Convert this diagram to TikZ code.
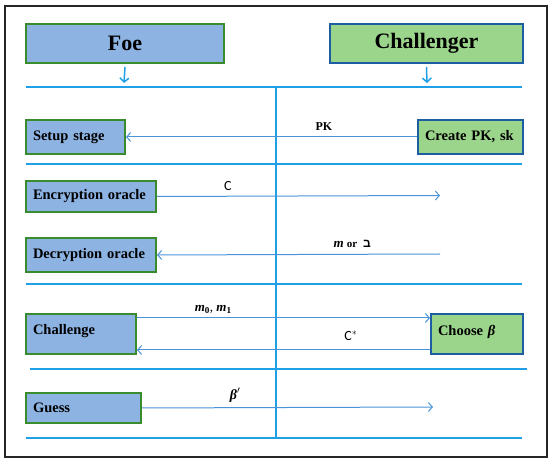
\documentclass[tikz,border=0pt]{standalone}
\usepackage{amsmath}
\usepackage{fontspec}
\setmainfont{Liberation Serif}
\newfontfamily\hebfont[Script=Hebrew]{Liberation Sans}
\newfontfamily\cfont{Carlito}
\TeXXeTstate=1
\usetikzlibrary{arrows.meta, positioning}
\definecolor{foefill}{HTML}{8DB3E2}
\definecolor{foeline}{HTML}{3A8A2E}
\definecolor{chfill}{HTML}{9BD48B}
\definecolor{chline}{HTML}{1D5DA1}
\definecolor{rulecol}{HTML}{1FA0E6}
\definecolor{msgcol}{HTML}{4A93D8}
\newcommand\bivar[1]{\textbf{\textit{#1}}}

\begin{document}
\begin{tikzpicture}[x=1pt, y=-1pt,
  foebox/.style={draw=foeline, fill=foefill, line width=2pt, anchor=north west,
                 inner xsep=7pt, align=left, font=\fontsize{14.5}{16}\selectfont\bfseries},
  chbox/.style={foebox, draw=chline, fill=chfill},
  titlebox/.style={align=center, font=\fontsize{22}{26}\selectfont\bfseries},
  sepline/.style={draw=rulecol, line width=2pt},
  msg/.style={draw=msgcol, line width=1pt, -{Straight Barb[length=4pt,width=9pt]}},
  down/.style={draw=rulecol, line width=1.5pt, -{Straight Barb[length=4pt,width=9pt]}},
  lab/.style={text=black, font=\fontsize{12}{14}\selectfont\bfseries, inner sep=2pt}]
\useasboundingbox (0,0) rectangle (550,462);
% Frame
\draw[draw=black!85, line width=2pt] (5,6) rectangle (547,457);
% Players
\node[foebox, titlebox, minimum width=198, minimum height=39] (foe) at (25,23) {Foe};
\node[chbox, titlebox, minimum width=193, minimum height=39] (chal) at (329,23) {Challenger};
\coordinate (foein) at (124,83);
\coordinate (chalin) at (427,83);
\draw[down] ([yshift=-3pt]foe.south) -- (foein);
\draw[down] ([yshift=-3pt]chal.south) -- (chalin);
% Separators
\draw[sepline] (26,87) -- (522,87);
\draw[sepline] (26,164) -- (522,164);
\draw[sepline] (26,284) -- (522,284);
\draw[sepline] (30,369) -- (527,369);
\draw[sepline] (26,438) -- (522,438);
\draw[sepline] (276,87) -- (276,438);
% Setup stage
\node[foebox, text width=85, minimum height=34] (setup) at (25,119) {Setup stage};
\node[chbox, text width=91, minimum height=34] (create) at (417,119) {Create PK, sk};
\draw[msg] (create.west) -- node[lab, above=4pt, pos=0.32] {PK} (setup.east);
% Oracles
\node[foebox, text width=116, minimum height=31] (enc) at (25,180) {Encryption oracle};
\node[foebox, text width=116, minimum height=34] (dec) at (25,237) {Decryption oracle};
\coordinate (encend) at (440,195.5);
\coordinate (decstart) at (440,254);
\draw[msg] (enc.east) -- node[lab, above=3pt, pos=0.25, font=\fontsize{14}{16}\cfont] {C} (encend);
\draw[msg] (decstart) -- node[lab, above=4pt, pos=0.31]
    {{\fontsize{13}{15}\selectfont\bivar{m}} {\fontsize{11}{13}\selectfont or}\ \ {\hebfont\bfseries\beginR ב\endR}} (dec.east);
% Challenge
\node[foebox, text width=96, minimum height=40] (challenge) at (25,313) {Challenge\\[-6pt]\mbox{}};
\node[chbox, text width=78, minimum height=40] (choose) at (430,313) {Choose \bivar{β}\\[-8pt]\mbox{}};
\draw[msg] ([yshift=16pt]challenge.east) -- node[lab, above=2pt, pos=0.26, font=\fontsize{13}{15}\selectfont]
    {\bivar{m}\textsubscript{\textbf{0}}, \bivar{m}\textsubscript{\textbf{1}}} ([yshift=16pt]choose.west);
\draw[msg] ([yshift=-16pt]choose.west) -- node[lab, above=7pt, pos=0.27, font=\fontsize{14}{16}\cfont]
    {C$^{*}$} ([yshift=-16pt]challenge.east);
% Guess
\node[foebox, text width=101, minimum height=30] (guess) at (25,392) {Guess};
\coordinate (guessend) at (433,407);
\draw[msg] (guess.east) -- node[lab, above=3pt, pos=0.32, font=\fontsize{14}{16}\selectfont] {\bivar{β}$'$} (guessend);
\end{tikzpicture}
\end{document}
